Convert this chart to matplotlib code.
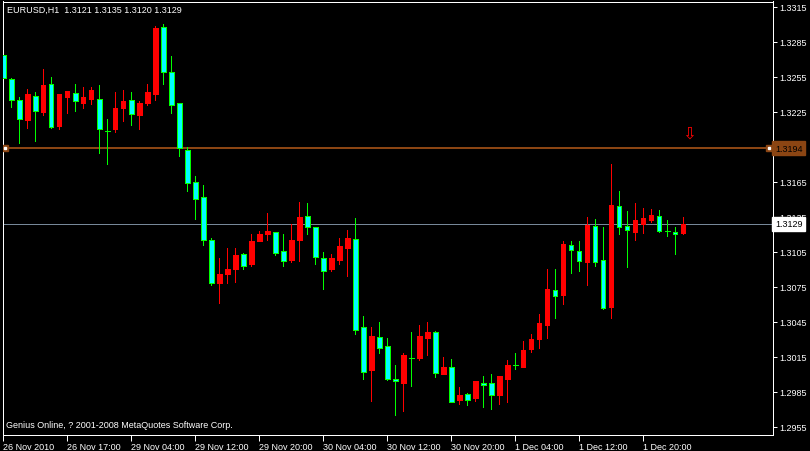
import matplotlib
matplotlib.use("Agg")
import matplotlib.pyplot as plt
from matplotlib.transforms import blended_transform_factory

plt.rcParams['font.family'] = ['Liberation Sans', 'DejaVu Sans']

# EURUSD H1 candles (first bar 26 Nov 2010 09:00)
opens = [1.3274, 1.3253, 1.3235, 1.3218, 1.3239, 1.3225, 1.3249, 1.3213, 1.3238, 1.3241,
         1.3233, 1.3236, 1.3236, 1.3209, 1.3210, 1.3228, 1.3235, 1.3222, 1.3233, 1.3240,
         1.3298, 1.3259, 1.3233, 1.3192, 1.3165, 1.3152, 1.3115, 1.3078, 1.3086, 1.3090,
         1.3103, 1.3095, 1.3114, 1.3120, 1.3122, 1.3106, 1.3098, 1.3115, 1.3136, 1.3126,
         1.3100, 1.3090, 1.3098, 1.3108, 1.3116, 1.3041, 1.3004, 1.3032, 1.3024, 1.2996,
         1.2993, 1.3014, 1.3014, 1.3031, 1.3036, 1.3000, 1.3006, 1.2978, 1.2983, 1.2980,
         1.2993, 1.2993, 1.2982, 1.2996, 1.3008, 1.3006, 1.3022, 1.3030, 1.3042, 1.3072,
         1.3068, 1.3111, 1.3106, 1.3096, 1.3127, 1.3098, 1.3058, 1.3144, 1.3127, 1.3122,
         1.3129, 1.3132, 1.3136, 1.3123, 1.3122, 1.3121]
highs = [1.3274, 1.3254, 1.3238, 1.3245, 1.3242, 1.3262, 1.3255, 1.3240, 1.3243, 1.3249,
         1.3246, 1.3246, 1.3248, 1.3219, 1.3242, 1.3244, 1.3242, 1.3234, 1.3249, 1.3299,
         1.3300, 1.3273, 1.3233, 1.3195, 1.3170, 1.3162, 1.3117, 1.3100, 1.3108, 1.3108,
         1.3104, 1.3120, 1.3123, 1.3138, 1.3122, 1.3120, 1.3129, 1.3148, 1.3147, 1.3126,
         1.3105, 1.3103, 1.3117, 1.3124, 1.3134, 1.3050, 1.3041, 1.3045, 1.3031, 1.3008,
         1.3018, 1.3036, 1.3042, 1.3045, 1.3037, 1.3015, 1.3013, 1.2989, 1.2984, 1.2994,
         1.2999, 1.3000, 1.2999, 1.3012, 1.3018, 1.3029, 1.3035, 1.3052, 1.3090, 1.3090,
         1.3114, 1.3114, 1.3114, 1.3135, 1.3133, 1.3126, 1.3180, 1.3157, 1.3140, 1.3147,
         1.3143, 1.3142, 1.3141, 1.3132, 1.3126, 1.3135]
lows = [1.3214, 1.3229, 1.3198, 1.3211, 1.3200, 1.3222, 1.3211, 1.3210, 1.3224, 1.3226,
        1.3228, 1.3232, 1.3190, 1.3180, 1.3208, 1.3217, 1.3214, 1.3210, 1.3231, 1.3235,
        1.3249, 1.3224, 1.3187, 1.3157, 1.3133, 1.3111, 1.3077, 1.3061, 1.3078, 1.3079,
        1.3090, 1.3093, 1.3114, 1.3115, 1.3102, 1.3093, 1.3096, 1.3097, 1.3120, 1.3095,
        1.3073, 1.3089, 1.3095, 1.3084, 1.3035, 1.2996, 1.2977, 1.3018, 1.2995, 1.2965,
        1.2969, 1.2990, 1.3012, 1.3017, 1.2998, 1.3000, 1.2976, 1.2975, 1.2974, 1.2977,
        1.2972, 1.2970, 1.2975, 1.2976, 1.3005, 1.3006, 1.3019, 1.3023, 1.3031, 1.3048,
        1.3060, 1.3087, 1.3089, 1.3077, 1.3093, 1.3056, 1.3048, 1.3120, 1.3092, 1.3115,
        1.3121, 1.3131, 1.3122, 1.3119, 1.3103, 1.3120]
closes = [1.3254, 1.3235, 1.3219, 1.3240, 1.3226, 1.3248, 1.3212, 1.3240, 1.3243, 1.3234,
          1.3238, 1.3244, 1.3210, 1.3209, 1.3228, 1.3234, 1.3223, 1.3233, 1.3242, 1.3297,
          1.3259, 1.3231, 1.3194, 1.3164, 1.3150, 1.3115, 1.3078, 1.3086, 1.3090, 1.3102,
          1.3093, 1.3114, 1.3120, 1.3123, 1.3104, 1.3097, 1.3115, 1.3135, 1.3126, 1.3101,
          1.3089, 1.3100, 1.3110, 1.3117, 1.3038, 1.3002, 1.3033, 1.3023, 1.2996, 1.2994,
          1.3017, 1.3014, 1.3033, 1.3036, 1.3001, 1.3006, 1.2976, 1.2982, 1.2978, 1.2994,
          1.2991, 1.2982, 1.2999, 1.3008, 1.3008, 1.3021, 1.3030, 1.3044, 1.3073, 1.3067,
          1.3112, 1.3107, 1.3097, 1.3128, 1.3096, 1.3057, 1.3145, 1.3126, 1.3124, 1.3132,
          1.3134, 1.3137, 1.3123, 1.3123, 1.3120, 1.3129]

tick_bars = [0, 8, 16, 24, 32, 40, 48, 56, 64, 72, 80]
tick_labels = ['26 Nov 2010', '26 Nov 17:00', '29 Nov 04:00', '29 Nov 12:00', '29 Nov 20:00',
               '30 Nov 04:00', '30 Nov 12:00', '30 Nov 20:00', '1 Dec 04:00', '1 Dec 12:00',
               '1 Dec 20:00']
price_ticks = [1.3315, 1.3285, 1.3255, 1.3225, 1.3195, 1.3165, 1.3135, 1.3105,
               1.3075, 1.3045, 1.3015, 1.2985, 1.2955]

level_price = 1.3194   # brown horizontal line
bid_price = 1.3129     # current bid line
arrow_bar, arrow_price = 85.7, 1.3207

PX = 0.72  # one pixel in points at dpi 100
BULL = '#ff0000'
BEAR = '#00ffff'
WICK = '#00ff00'
BROWN = '#8b4513'

fig = plt.figure(figsize=(8.1, 4.52), dpi=100, facecolor='black')
ax = fig.add_axes([2.5 / 810, 16.5 / 452, 770 / 810, 433 / 452], facecolor='black')

n = len(opens)
up = [i for i in range(n) if closes[i] > opens[i]]
down = [i for i in range(n) if closes[i] < opens[i]]
doji = [i for i in range(n) if closes[i] == opens[i]]

# levels
ax.axhline(level_price, color=BROWN, lw=2 * PX, zorder=1)
ax.axhline(bid_price, color='#778899', lw=PX, zorder=1)

# wicks
ax.vlines(up, [lows[i] for i in up], [highs[i] for i in up], color=BULL, lw=PX,
          antialiased=False, zorder=2)
ax.vlines(down + doji, [lows[i] for i in down + doji], [highs[i] for i in down + doji],
          color=WICK, lw=PX, antialiased=False, zorder=2)

# bodies
ax.bar(up, [closes[i] - opens[i] for i in up], bottom=[opens[i] for i in up], width=0.55,
       color=BULL, edgecolor=BULL, linewidth=PX, antialiased=False, zorder=3)
ax.bar(down, [opens[i] - closes[i] for i in down], bottom=[closes[i] for i in down], width=0.55,
       color=BEAR, edgecolor=WICK, linewidth=PX, antialiased=False, zorder=3)
ax.hlines([opens[i] for i in doji], [i - 0.3 for i in doji], [i + 0.3 for i in doji],
          color=WICK, lw=PX, antialiased=False, zorder=3)

ax.set_xlim(-0.1, 96.15)
ax.set_ylim(1.294857, 1.331971)

# handles on the brown line
for xh in (0.2, 95.7):
    ax.plot([xh], [level_price], marker='s', ms=4.5, mfc=BROWN, mec=BROWN, zorder=4)
    ax.plot([xh], [level_price], marker='s', ms=1.5, mfc='white', mec='white', zorder=5)

ax.text(arrow_bar, arrow_price, '\u21e9', color='red', fontsize=12, ha='center', va='center',
        family='DejaVu Sans', zorder=5)

for s in ax.spines.values():
    s.set_color('white')
    s.set_linewidth(PX)

ax.yaxis.tick_right()
ax.set_yticks(price_ticks)
# the 1.3195 label sits under the level box, so it is left blank
ax.set_yticklabels(['' if p == 1.3195 else '%.4f' % p for p in price_ticks])
ax.tick_params(axis='y', colors='white', length=3, width=PX, pad=2, labelsize=6.5)
ax.set_xticks(tick_bars)
ax.set_xticklabels(tick_labels, ha='left')
ax.tick_params(axis='x', colors='white', length=4, width=PX, pad=1.5, labelsize=6.5)

trans = blended_transform_factory(ax.transAxes, ax.transData)
ax.text(1.0035, level_price, '%.4f' % level_price, transform=trans, ha='left', va='center',
        fontsize=6.5, color='black', clip_on=False, zorder=10,
        bbox=dict(boxstyle='square,pad=0.3', fc=BROWN, ec=BROWN))
ax.text(1.0035, bid_price, '%.4f' % bid_price, transform=trans, ha='left', va='center',
        fontsize=6.5, color='black', clip_on=False, zorder=10,
        bbox=dict(boxstyle='square,pad=0.3', fc='white', ec='white'))

fig.text(7 / 810, 1 - 10.5 / 452, 'EURUSD,H1  %.4f %.4f %.4f %.4f'
         % (opens[-1], highs[-1], lows[-1], closes[-1]),
         color='white', fontsize=6.5, ha='left', va='center')
fig.text(6 / 810, 1 - 426 / 452, 'Genius Online, ? 2001-2008 MetaQuotes Software Corp.',
         color='white', fontsize=6.5, ha='left', va='center')

fig.savefig('out.png', dpi=100, facecolor='black')
